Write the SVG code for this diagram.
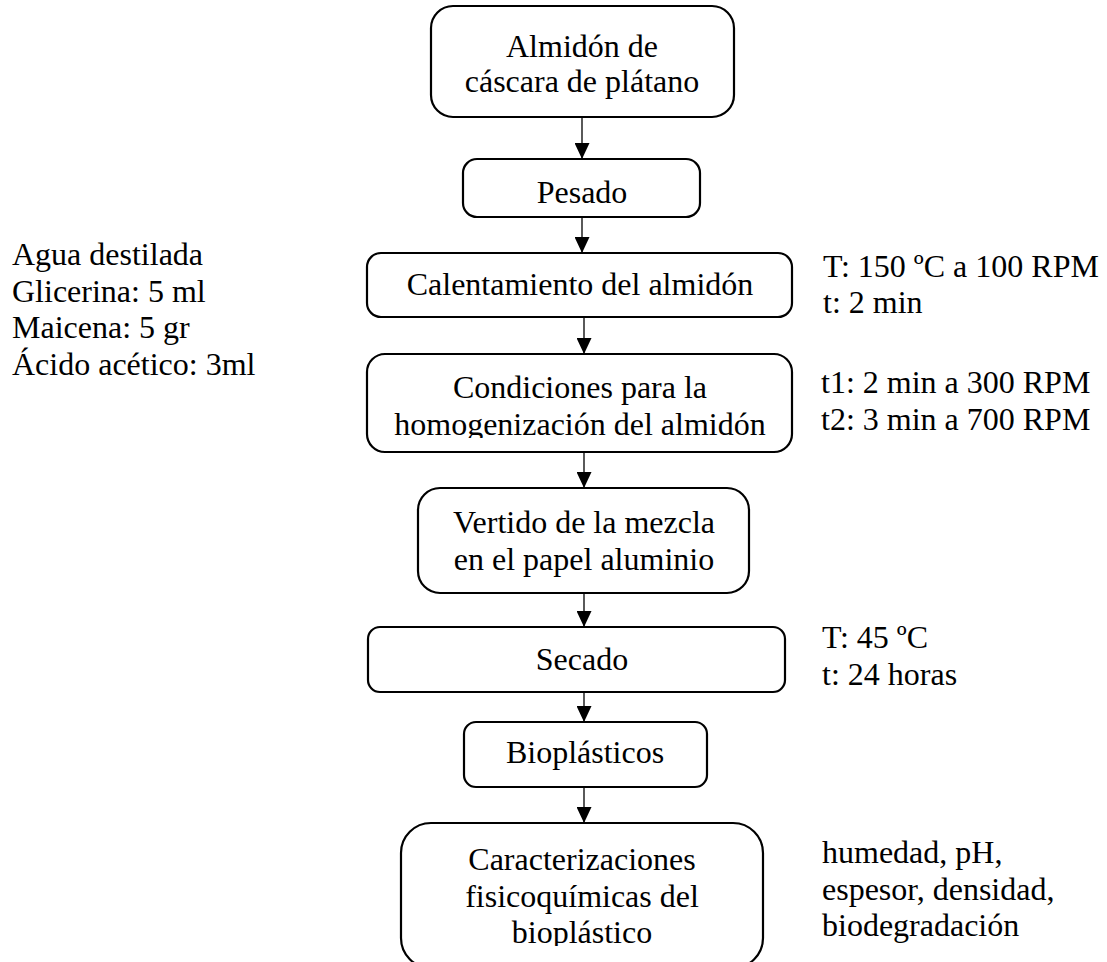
<svg xmlns="http://www.w3.org/2000/svg" width="1107" height="962" viewBox="0 0 1107 962">
<style>
.box{fill:#fff;stroke:#000;stroke-width:2.2}
.t{font-family:"Liberation Serif","Times New Roman",serif;font-size:32px;fill:#000}
.c{text-anchor:middle}
.ln{stroke:#000;stroke-width:1.3;fill:none}
</style>
<defs>
<marker id="ah" markerWidth="16" markerHeight="15" refX="16" refY="7.5" orient="auto" markerUnits="userSpaceOnUse">
<path d="M0,0 L16,7.5 L0,15 Z" fill="#000"/>
</marker>
<clipPath id="clipCond"><rect x="360" y="350" width="440" height="88"/></clipPath>
<clipPath id="clipCar"><rect x="395" y="820" width="375" height="126"/></clipPath>
</defs>
<rect width="1107" height="962" fill="#fff"/>
<g id="connectors">
<line class="ln" x1="582" y1="117" x2="582" y2="159" marker-end="url(#ah)"/>
<line class="ln" x1="582" y1="217" x2="582" y2="253" marker-end="url(#ah)"/>
<line class="ln" x1="584" y1="317" x2="584" y2="354" marker-end="url(#ah)"/>
<line class="ln" x1="584" y1="452" x2="584" y2="488" marker-end="url(#ah)"/>
<line class="ln" x1="584" y1="593" x2="584" y2="627" marker-end="url(#ah)"/>
<line class="ln" x1="584" y1="692" x2="584" y2="722" marker-end="url(#ah)"/>
<line class="ln" x1="584" y1="787" x2="584" y2="823" marker-end="url(#ah)"/>
</g>
<g id="n1">
<rect class="box" x="431" y="6" width="303" height="111" rx="22"/>
<text class="t c" x="582" y="57">Almidón de</text>
<text class="t c" x="582" y="92">cáscara de plátano</text>
</g>
<g id="n2">
<rect class="box" x="463" y="159" width="237" height="58" rx="14"/>
<text class="t c" x="582" y="203">Pesado</text>
</g>
<g id="n3">
<rect class="box" x="367" y="253" width="425" height="64" rx="14"/>
<text class="t c" x="580" y="295">Calentamiento del almidón</text>
</g>
<g id="n4">
<rect class="box" x="367" y="354" width="425" height="98" rx="18"/>
<text class="t c" x="580" y="398">Condiciones para la</text>
<text class="t c" x="580" y="435" clip-path="url(#clipCond)">homogenización del almidón</text>
</g>
<g id="n5">
<rect class="box" x="418" y="488" width="331" height="105" rx="22"/>
<text class="t c" x="584" y="533">Vertido de la mezcla</text>
<text class="t c" x="584" y="570">en el papel aluminio</text>
</g>
<g id="n6">
<rect class="box" x="368" y="627" width="417" height="65" rx="12"/>
<text class="t c" x="582" y="670">Secado</text>
</g>
<g id="n7">
<rect class="box" x="464" y="722" width="243" height="65" rx="12"/>
<text class="t c" x="585" y="763">Bioplásticos</text>
</g>
<g id="n8">
<rect class="box" x="401" y="823" width="362" height="145" rx="30"/>
<text class="t c" x="582" y="870">Caracterizaciones</text>
<text class="t c" x="582" y="907">fisicoquímicas del</text>
<text class="t c" x="582" y="943" clip-path="url(#clipCar)">bioplástico</text>
</g>
<g id="inputs">
<text class="t" x="12" y="265">Agua destilada</text>
<text class="t" x="12" y="302">Glicerina: 5 ml</text>
<text class="t" x="12" y="338">Maicena: 5 gr</text>
<text class="t" x="12" y="375">Ácido acético: 3ml</text>
</g>
<g id="cond-calentamiento">
<text class="t" x="823" y="277">T: 150 ºC a 100 RPM</text>
<text class="t" x="823" y="313">t: 2 min</text>
</g>
<g id="cond-homog">
<text class="t" x="821" y="393">t1: 2 min a 300 RPM</text>
<text class="t" x="821" y="430">t2: 3 min a 700 RPM</text>
</g>
<g id="cond-secado">
<text class="t" x="822" y="648">T: 45 ºC</text>
<text class="t" x="822" y="685">t: 24 horas</text>
</g>
<g id="cond-caract">
<text class="t" x="822" y="863">humedad, pH,</text>
<text class="t" x="822" y="900">espesor, densidad,</text>
<text class="t" x="822" y="936">biodegradación</text>
</g>
</svg>
